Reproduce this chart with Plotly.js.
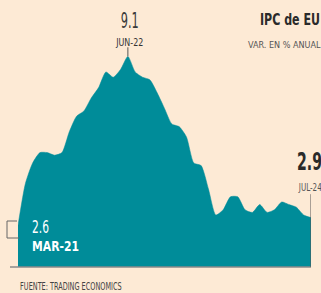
<!DOCTYPE html>
<html>
<head>
<meta charset="utf-8">
<script src="https://cdn.plot.ly/plotly-3.0.1.min.js"></script>
<style>
html,body{margin:0;padding:0;background:#fdead5;}
#chart{width:321px;height:293px;}
</style>
</head>
<body>
<div id="chart"></div>
<script>
const months = ["Mar-21","Apr-21","May-21","Jun-21","Jul-21","Aug-21","Sep-21","Oct-21","Nov-21","Dec-21",
  "Jan-22","Feb-22","Mar-22","Apr-22","May-22","Jun-22","Jul-22","Aug-22","Sep-22","Oct-22","Nov-22","Dec-22",
  "Jan-23","Feb-23","Mar-23","Apr-23","May-23","Jun-23","Jul-23","Aug-23","Sep-23","Oct-23","Nov-23","Dec-23",
  "Jan-24","Feb-24","Mar-24","Apr-24","May-24","Jun-24","Jul-24"];
const cpi = [2.6,4.2,5.0,5.4,5.4,5.3,5.4,6.2,6.8,7.0,
  7.5,7.9,8.5,8.3,8.6,9.1,8.5,8.3,8.2,7.7,7.1,6.5,
  6.4,6.0,5.0,4.9,4.0,3.0,3.2,3.7,3.7,3.2,3.1,3.4,
  3.1,3.2,3.5,3.4,3.3,3.0,2.9];
const peakLabel = "JUN-22", peakValue = "9.1";
const lastLabel = "JUL-24", lastValue = "2.9";
const firstLabel = "MAR-21", firstValue = "2.6";
const title = "IPC de EU";
const subtitle = "VAR. EN % ANUAL";
const source = "FUENTE: TRADING ECONOMICS";

const FONT = "Liberation Sans Narrow, DejaVu Sans Condensed, Liberation Sans, Arial, sans-serif";
const W = 321, H = 293, L = 18, R = 10, T = 33, B = 26;
const pw = W - L - R, ph = H - T - B;
const px = x => (x - L) / pw;
const py = y => (H - B - y) / ph;

const trace = {
  x: months, y: cpi, type: "scatter", mode: "lines",
  line: {shape: "spline", smoothing: 0.6, width: 0.5, color: "#008c99"},
  fill: "tozeroy", fillcolor: "#008c99", hoverinfo: "skip"
};

// each label: text, anchor x (px), centre y (px), size, colour, anchor, bold, target width (px)
const labels = [
  [peakValue, 129, 21, 22, "#3a3a3a", "center", false, 18],
  [peakLabel, 129, 43, 11, "#333333", "center", false, 28],
  [title, 258, 20, 15, "#2a2a2a", "left", true, 60],
  [subtitle, 246, 45, 9, "#555555", "left", false, 74],
  [lastValue, 295, 162, 24, "#2a2a2a", "left", true, 25],
  [lastLabel, 296, 187, 10, "#555555", "left", false, 24],
  [firstValue, 30, 226, 18, "#ffffff", "left", false, 17],
  [firstLabel, 30, 246, 14, "#ffffff", "left", true, 47],
  [source, 18, 286, 10, "#444444", "left", false, 102]
];

const layout = {
  width: W, height: H,
  margin: {l: L, r: R, t: T, b: B, pad: 0},
  paper_bgcolor: "#fdead5", plot_bgcolor: "#fdead5",
  showlegend: false,
  xaxis: {type: "category", range: [0, months.length - 1], visible: false, fixedrange: true},
  yaxis: {range: [1, 10], visible: false, fixedrange: true},
  annotations: labels.map(([text, x, y, size, color, anchor, bold]) => ({
    text: bold ? "<b>" + text + "</b>" : text,
    xref: "paper", yref: "paper", x: px(x), y: py(y),
    xanchor: anchor, yanchor: "middle", showarrow: false,
    font: {family: FONT, size: size, color: color}
  })),
  shapes: [
    {type: "line", xref: "paper", yref: "paper", x0: px(10), x1: 1, y0: 0, y1: 0,
     line: {color: "#8a8a8a", width: 1.5}},
    {type: "line", xref: "x", yref: "y", x0: 15, x1: 15, y0: 9.1, y1: 9.45,
     line: {color: "#555555", width: 1}},
    {type: "line", xref: "x", yref: "y", x0: 40, x1: 40, y0: 1, y1: 3.8,
     line: {color: "#555555", width: 1}},
    {type: "path", xref: "paper", yref: "paper",
     path: "M " + px(17) + " " + py(221) + " L " + px(7) + " " + py(221) + " L " + px(7) + " " + py(238) + " L " + px(19) + " " + py(238),
     line: {color: "#666666", width: 1}}
  ]
};

Plotly.newPlot("chart", [trace], layout, {staticPlot: true, displayModeBar: false}).then(gd => {
  // condense the label text horizontally to mimic the narrow newspaper typeface
  const texts = gd.querySelectorAll(".annotation .annotation-text");
  texts.forEach((t, i) => {
    const lab = labels[i];
    if (!lab) return;
    const bb = t.getBBox();
    if (!bb.width) return;
    const s = Math.min(1, lab[7] / bb.width);
    const ox = lab[5] === "center" ? bb.x + bb.width / 2 : bb.x;
    const prev = t.getAttribute("transform") || "";
    t.setAttribute("transform", prev + " translate(" + (ox * (1 - s)) + ",0) scale(" + s + ",1)");
  });
});
</script>
</body>
</html>
